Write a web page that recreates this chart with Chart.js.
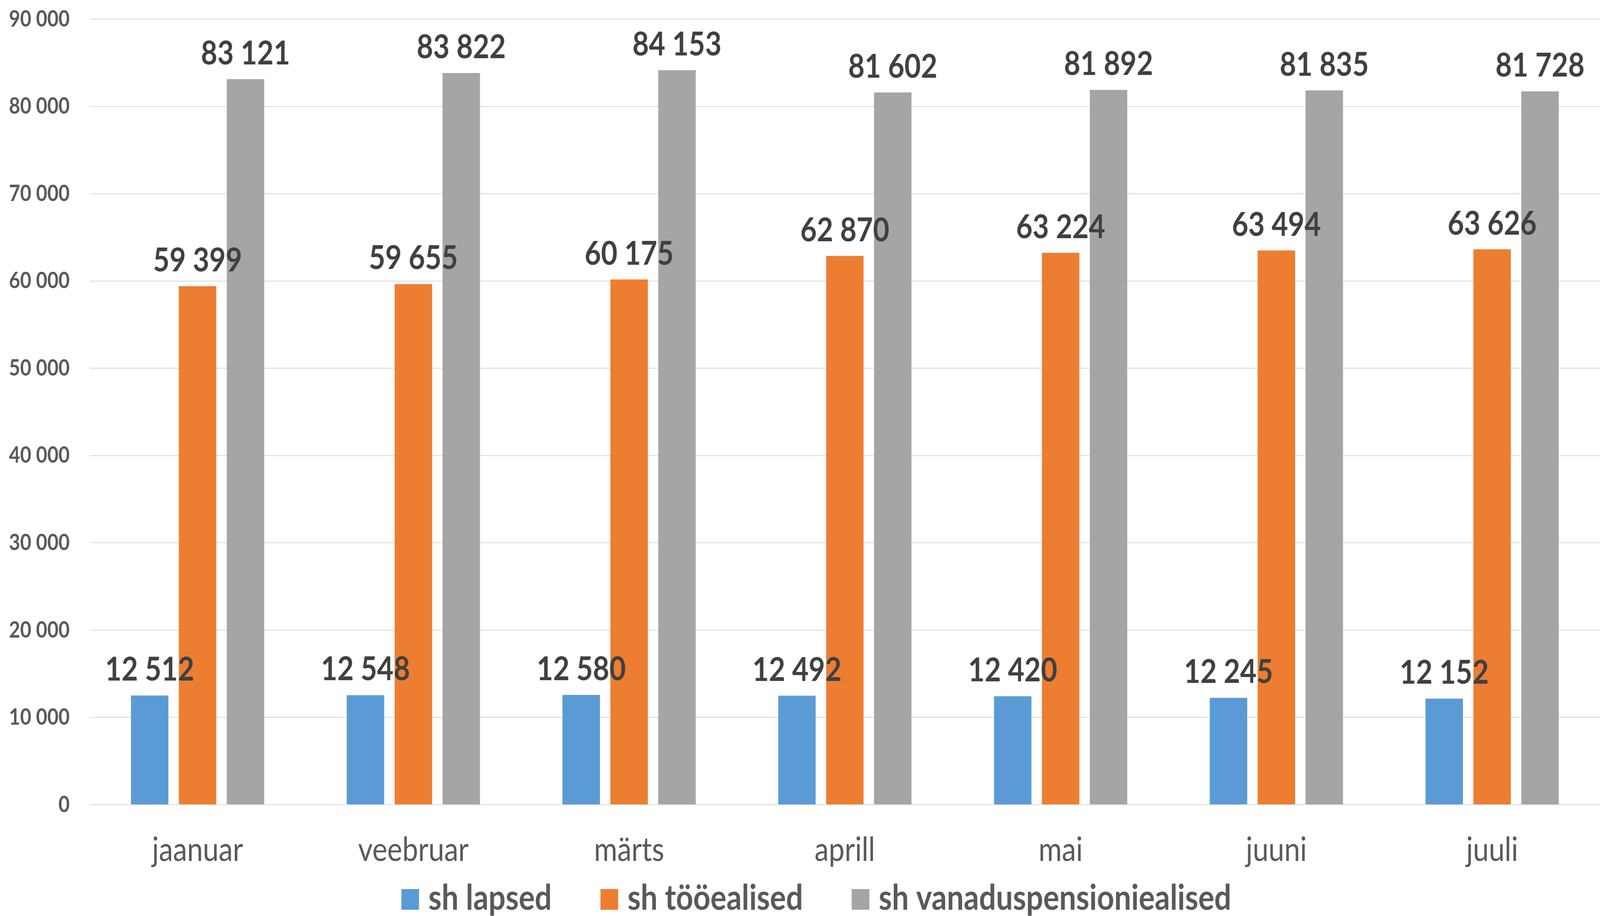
<!DOCTYPE html>
<html><head><meta charset="utf-8">
<script src="https://cdn.jsdelivr.net/npm/chart.js@4"></script>
<style>html,body{margin:0;padding:0;background:#fff;overflow:hidden}canvas{display:block}</style>
</head><body>
<canvas id="c" width="4798" height="2346" style="width:100vw;height:100vh"></canvas>
<script>
const months = ['jaanuar', 'veebruar', 'märts', 'aprill', 'mai', 'juuni', 'juuli'];
const seriesNames = ['sh lapsed', 'sh tööealised', 'sh vanaduspensioniealised'];
const lapsed = [12512, 12548, 12580, 12492, 12420, 12245, 12152];
const tooealised = [59399, 59655, 60175, 62870, 63224, 63494, 63626];
const vanaduspensioniealised = [83121, 83822, 84153, 81602, 81892, 81835, 81728];
const yMin = 0, yMax = 90000, yStep = 10000;
const colors = ['#5B9BD5', '#ED7D31', '#A5A5A5'];

const canvas = document.getElementById('c');
const FONT = 'Lato, "Open Sans", "Liberation Sans", sans-serif';
function fmt(v) { return String(Math.round(v)).replace(/\B(?=(\d{3})+(?!\d))/g, ' '); }

const dataLabels = {
  id: 'dataLabels',
  afterDatasetsDraw(chart) {
    const ctx = chart.ctx;
    ctx.save();
    ctx.font = 'bold 85px ' + FONT;
    ctx.fillStyle = '#404040';
    ctx.textAlign = 'center';
    ctx.textBaseline = 'alphabetic';
    chart.data.datasets.forEach((ds, i) => {
      const meta = chart.getDatasetMeta(i);
      meta.data.forEach((bar, j) => {
        ctx.fillText(fmt(ds.data[j]), bar.x, bar.y - 38);
      });
    });
    ctx.restore();
  }
};

const customLegend = {
  id: 'customLegend',
  afterDraw(chart) {
    const ctx = chart.ctx;
    ctx.save();
    ctx.font = 'bold 90px ' + FONT;
    ctx.textAlign = 'left';
    ctx.textBaseline = 'alphabetic';
    const box = 53, gapBT = 28, gapItem = 146, baseline = 2330, center = 2448;
    const ds = chart.data.datasets;
    const widths = ds.map(d => ctx.measureText(d.label).width);
    let total = 0;
    widths.forEach((w, i) => { total += box + gapBT + w + (i < widths.length - 1 ? gapItem : 0); });
    let x = center - total / 2;
    ds.forEach((d, i) => {
      ctx.fillStyle = d.backgroundColor;
      ctx.fillRect(x, baseline - box, box, box);
      ctx.fillStyle = '#595959';
      ctx.fillText(d.label, x + box + gapBT, baseline);
      x += box + gapBT + widths[i] + gapItem;
    });
    ctx.restore();
  }
};

const seriesData = [lapsed, tooealised, vanaduspensioniealised];

new Chart(canvas, {
  type: 'bar',
  data: {
    labels: months,
    datasets: seriesData.map((d, i) => ({
      label: seriesNames[i],
      data: d,
      backgroundColor: colors[i],
      borderWidth: 0,
      barPercentage: 0.782,
      categoryPercentage: 0.666
    }))
  },
  options: {
    responsive: false,
    devicePixelRatio: 1,
    animation: false,
    layout: { padding: { top: 49, right: -27, bottom: 0, left: 0 } },
    plugins: { legend: { display: false }, tooltip: { enabled: false } },
    scales: {
      x: {
        grid: { display: false },
        border: { display: false },
        ticks: { color: '#595959', font: { family: FONT, size: 85 }, padding: 58, maxRotation: 0, autoSkip: false },
        afterFit(scale) { scale.height = 2346 - 2061; }
      },
      y: {
        min: yMin, max: yMax,
        grid: { color: '#D9D9D9', lineWidth: 2, drawTicks: false },
        border: { display: false },
        ticks: { stepSize: yStep, color: '#595959', font: { family: FONT, size: 58, weight: 'bold' }, padding: 60, callback: v => fmt(v) },
        afterFit(scale) { scale.width = 269; scale.paddingTop = 0; scale.paddingBottom = 0; }
      }
    }
  },
  plugins: [dataLabels, customLegend]
});
</script>
</body></html>
